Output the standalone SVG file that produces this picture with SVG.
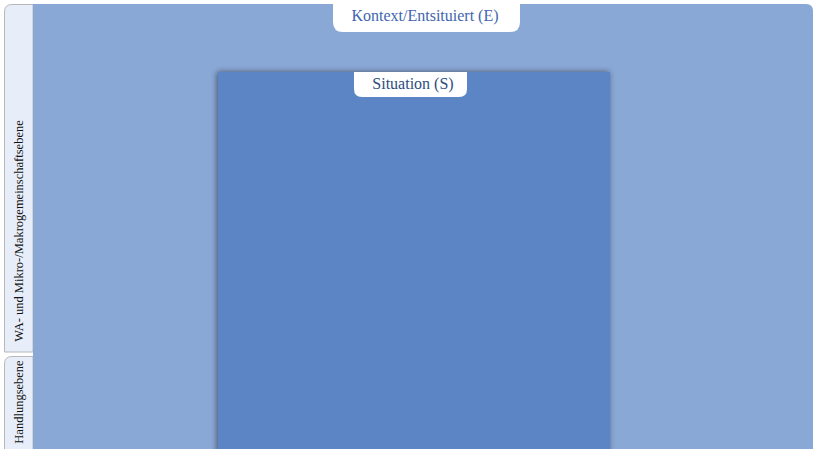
<svg xmlns="http://www.w3.org/2000/svg" width="814" height="449" viewBox="0 0 814 449">
<defs>
<filter id="sh" x="-10%" y="-10%" width="120%" height="120%"><feGaussianBlur in="SourceAlpha" stdDeviation="3"/><feOffset dx="-1" dy="0"/><feComponentTransfer><feFuncA type="linear" slope="0.5"/></feComponentTransfer><feMerge><feMergeNode/><feMergeNode in="SourceGraphic"/></feMerge></filter>
<style>
.tab{fill:#E8EEF9;stroke:#B8B8B8;stroke-width:1}
.vt{font-family:"Liberation Serif",serif;font-size:12.5px;fill:#111}
.lbl{font-family:"Liberation Serif",serif;font-size:16px;text-anchor:middle}
</style>
</defs>
<rect width="814" height="449" fill="#fff"/>
<g id="tab-wa">
<path class="tab" d="M4.5,352 V12 Q4.5,4.5 12,4.5 H33 V352 Z"/>
<text class="vt" transform="translate(23,231) rotate(-90)" text-anchor="middle">WA- und Mikro-/Makrogemeinschaftsebene</text>
</g>
<g id="tab-handlung">
<path class="tab" d="M4.5,452 V364 Q4.5,356.5 12,356.5 H33 V452 Z"/>
<text class="vt" transform="translate(23,402) rotate(-90)" text-anchor="middle">Handlungsebene</text>
</g>
<g id="kontext">
<path d="M33,4 H806 Q813,4 813,11 V449 H33 Z" fill="#8AA8D6"/>
<path d="M333,0 H520 V22 Q520,32 510,32 H343 Q333,32 333,22 Z" fill="#fff"/>
<text class="lbl" x="425" y="21" fill="#3F65B0">Kontext/Entsituiert (E)</text>
</g>
<g id="situation">
<rect x="218" y="72" width="392" height="390" fill="#5B85C5" filter="url(#sh)"/>
<path d="M354,72 H467 V89 Q467,97 459,97 H362 Q354,97 354,89 Z" fill="#fff"/>
<text class="lbl" x="413" y="89" fill="#2E4D80">Situation (S)</text>
</g>
<g id="connectors"/>
</svg>
